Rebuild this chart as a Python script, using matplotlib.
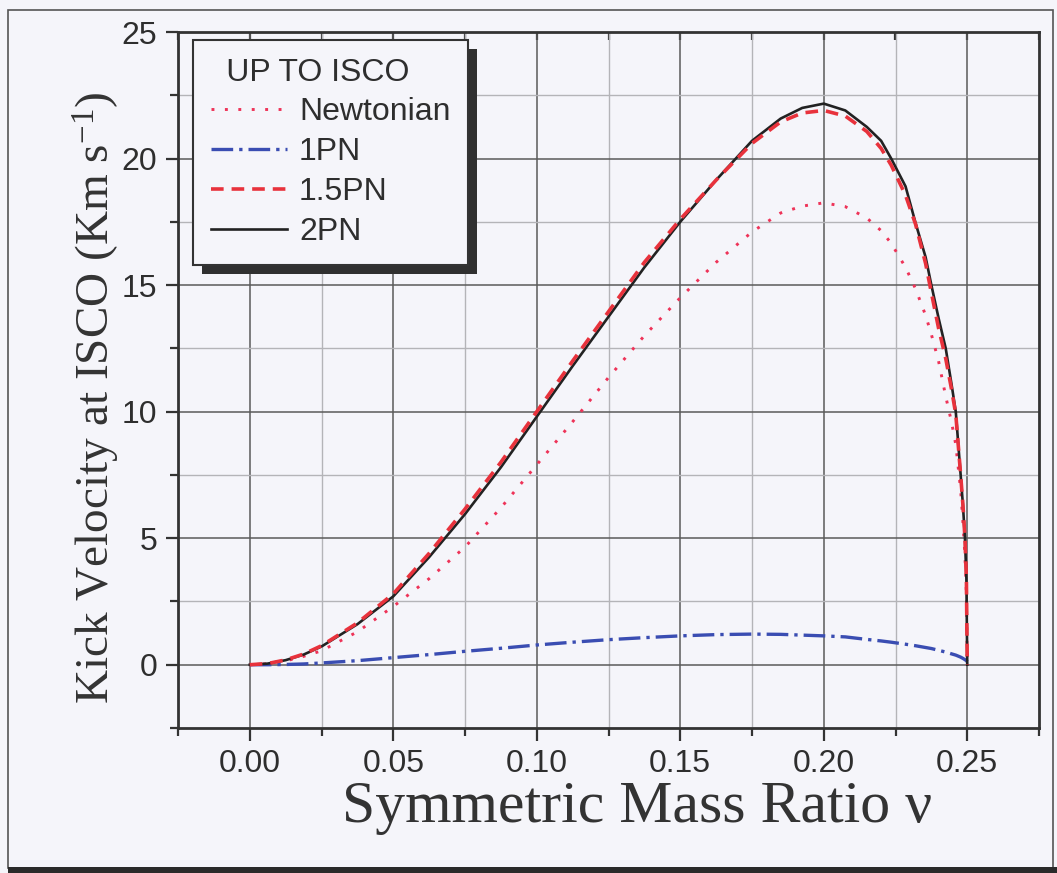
import numpy as np
import matplotlib
matplotlib.use("Agg")
import matplotlib.pyplot as plt
from matplotlib.patches import Rectangle
from matplotlib.ticker import MultipleLocator

plt.rcParams['mathtext.fontset'] = 'custom'
plt.rcParams['mathtext.rm'] = 'Liberation Serif'
plt.rcParams['mathtext.it'] = 'Liberation Serif:italic'

# ---- data ----
nu = [0.0, 0.00625, 0.0125, 0.01875, 0.025, 0.0375, 0.05, 0.0625, 0.075, 0.0875,
      0.1, 0.1125, 0.125, 0.1375, 0.15, 0.1625, 0.175, 0.185, 0.1925, 0.2,
      0.2075, 0.215, 0.22, 0.2235, 0.2285, 0.232, 0.2355, 0.2375, 0.24, 0.2425,
      0.2445, 0.246, 0.2477, 0.2485, 0.2492, 0.2497, 0.25]
newtonian = [0.0, 0.04, 0.15, 0.33, 0.55, 1.3, 2.3, 3.4, 4.65, 6.2,
             7.9, 9.6, 11.35, 13.0, 14.5, 15.9, 17.1, 17.85, 18.12, 18.25,
             18.1, 17.65, 17.15, 16.65, 15.7, 14.85, 13.8, 13.05, 12.0, 10.6,
             9.6, 8.7, 6.9, 5.6, 4.3, 2.8, 0.0]
pn1 = [0.0, 0.0, 0.01, 0.03, 0.07, 0.16, 0.28, 0.40, 0.53, 0.65,
       0.78, 0.89, 0.99, 1.07, 1.14, 1.19, 1.21, 1.2, 1.17, 1.14,
       1.1, 1.0, 0.94, 0.89, 0.81, 0.75, 0.68, 0.64, 0.57, 0.50,
       0.43, 0.38, 0.30, 0.25, 0.20, 0.16, 0.12]
pn15 = [0.0, 0.047, 0.19, 0.42, 0.75, 1.65, 2.8, 4.4, 6.15, 8.0,
        10.0, 12.0, 13.95, 15.9, 17.6, 19.15, 20.6, 21.45, 21.8, 21.9,
        21.68, 21.07, 20.4, 19.74, 18.55, 17.4, 15.85, 14.7, 13.3, 12.1,
        10.9, 9.9, 7.5, 6.3, 5.0, 3.4, 0.0]
pn2 = [0.0, 0.045, 0.18, 0.4, 0.72, 1.6, 2.7, 4.25, 5.95, 7.8,
       9.8, 11.8, 13.75, 15.7, 17.5, 19.15, 20.7, 21.58, 22.0, 22.17,
       21.9, 21.25, 20.7, 20.0, 18.9, 17.45, 16.1, 15.0, 13.7, 12.5,
       11.1, 10.0, 7.5, 6.3, 5.0, 3.4, 0.0]
series_labels = ["Newtonian", "1PN", "1.5PN", "2PN"]
legend_title = "UP TO ISCO"
xticks = [0.0, 0.05, 0.10, 0.15, 0.20, 0.25]
xticklabels = ["0.00", "0.05", "0.10", "0.15", "0.20", "0.25"]
yticks = [0, 5, 10, 15, 20, 25]

BG = '#f5f5fa'
TXT = '#2e2e2e'

fig = plt.figure(figsize=(10.57, 8.73), dpi=100, facecolor=BG)
W, H = 1057, 873
ax = fig.add_axes([178 / W, 1 - 728 / H, (1039 - 178) / W, (728 - 32) / H])
ax.set_facecolor(BG)

ax.set_xlim(-0.025, 0.275)
ax.set_ylim(-2.5, 25)

ax.set_xticks(xticks)
ax.set_xticklabels(xticklabels)
ax.set_yticks(yticks)
ax.xaxis.set_minor_locator(MultipleLocator(0.025))
ax.yaxis.set_minor_locator(MultipleLocator(2.5))

ax.grid(which='major', color='#5a5a5a', lw=1.1, zorder=0)
ax.grid(which='minor', color='#b4b4b8', lw=1.0, zorder=0)
ax.set_axisbelow(True)

for s in ax.spines.values():
    s.set_color('#333333')
    s.set_linewidth(2.0)

ax.tick_params(which='major', direction='out', length=9, width=1.6, color='#333333',
               labelsize=23, labelcolor=TXT, pad=6)
ax.tick_params(which='minor', direction='out', length=5.5, width=1.6, color='#333333')
ax.tick_params(axis='both', which='both', top=False, right=False)
for lab in ax.get_xticklabels() + ax.get_yticklabels():
    lab.set_fontfamily('Liberation Sans')

sec = ax.secondary_xaxis('top')
sec.set_xticks(np.arange(-0.025, 0.2751, 0.025))
sec.tick_params(direction='in', length=6, width=1.6, color='#333333', labeltop=False)
sec.spines['top'].set_visible(False)

ax.plot(nu, newtonian, color='#ee3358', lw=2.1, linestyle=(0, (1, 3.6)),
        label=series_labels[0], zorder=3)
ax.plot(nu, pn1, color='#3a4db2', lw=2.4, linestyle=(0, (6.5, 1.8, 1.0, 1.8)),
        label=series_labels[1], zorder=3)
ax.plot(nu, pn15, color='#e8323c', lw=2.6, linestyle=(0, (3.5, 2.2)),
        label=series_labels[2], zorder=4)
ax.plot(nu, pn2, color='#222222', lw=1.9, linestyle='-',
        label=series_labels[3], zorder=3.5)

ax.set_xlabel("Symmetric Mass Ratio \u03bd", fontfamily='Liberation Serif',
              fontsize=43, color='#333333', va='center', ha='center')
ax.xaxis.set_label_coords((637 - 178) / 861, (728 - 808) / 696)
ax.set_ylabel("Kick Velocity at ISCO (Km s$^{-1}$)", fontfamily='Liberation Serif',
              fontsize=34, color='#333333', va='center', ha='center')
ax.yaxis.set_label_coords((96 - 178) / 861, (728 - 398) / 696)

leg = ax.legend(loc='upper left', bbox_to_anchor=(15 / 861, 1 - 8 / 696),
                borderaxespad=0, title=" \u2009" + legend_title, alignment='left',
                prop={'family': 'Liberation Sans', 'size': 23},
                title_fontproperties={'family': 'Liberation Sans', 'size': 23},
                frameon=True, fancybox=False, framealpha=1,
                edgecolor='#333333', facecolor=BG,
                handlelength=2.4, handletextpad=0.37, labelspacing=0.31,
                borderpad=0.55)
leg.get_frame().set_linewidth(1.5)
for t in leg.get_texts():
    t.set_color(TXT)
leg.get_title().set_color(TXT)
leg.set_zorder(6)

fig.canvas.draw()
bb = leg.get_window_extent()
off = 9
inv = ax.transAxes.inverted()
(x0, y0) = inv.transform((bb.x0 + off, bb.y0 - off))
(x1, y1) = inv.transform((bb.x1 + off, bb.y1 - off))
shadow = Rectangle((x0, y0), x1 - x0, y1 - y0, transform=ax.transAxes,
                   facecolor='#303030', edgecolor='none', zorder=5.9, clip_on=False)
ax.add_patch(shadow)

# outer frame of the figure
fig.add_artist(Rectangle((8 / W, 1 - 868 / H), (1053 - 8) / W, (868 - 10) / H,
                         transform=fig.transFigure, fill=False,
                         edgecolor='#555555', lw=1.2))
fig.add_artist(Rectangle((8 / W, 0), 1 - 8 / W, 6 / H, transform=fig.transFigure,
                         facecolor='#2a2a2a', edgecolor='none'))

fig.savefig('out.png', dpi=100, facecolor=BG)
